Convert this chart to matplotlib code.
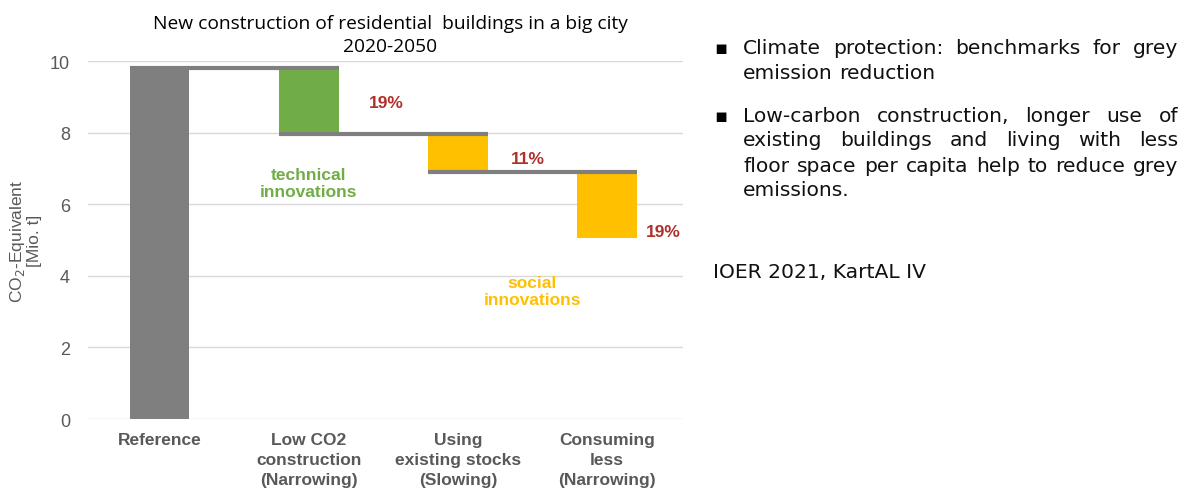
import matplotlib.pyplot as plt

# categories and waterfall values (Mio. t CO2-equivalent)
categories = ['Reference', 'Low CO2\nconstruction\n(Narrowing)',
              'Using\nexisting stocks\n(Slowing)', 'Consuming\nless\n(Narrowing)']
levels = [9.8, 7.95, 6.9, 5.05]          # level after each step
shares = ['19%', '11%', '19%']
colours = ['#7f7f7f', '#70ad47', '#ffc000', '#ffc000']

bullets = [
    ['Climate protection: benchmarks for grey', 'emission reduction'],
    ['Low-carbon construction, longer use of', 'existing buildings and living with less',
     'floor space per capita help to reduce grey', 'emissions.'],
]
source = 'IOER 2021, KartAL IV'

arial = ['Liberation Sans', 'DejaVu Sans']
side_font = ['DejaVu Sans']
side_size = 14.6

fig = plt.figure(figsize=(11.9, 4.89), dpi=100)
ax = fig.add_axes([0.074, 0.141, 0.50, 0.732])

w = 0.4
x = list(range(len(categories)))
# reference bar
ax.bar(x[0], levels[0], width=w, color=colours[0], zorder=3)
# reductions
for i in range(1, len(levels)):
    ax.bar(x[i], levels[i - 1] - levels[i], bottom=levels[i], width=w,
           color=colours[i], zorder=3)
# connector lines
for i in range(len(levels) - 1):
    ax.plot([x[i] - w / 2, x[i + 1] + w / 2], [levels[i], levels[i]],
            color='#7f7f7f', lw=3, zorder=4, solid_capstyle='butt')

# percentage labels (offsets from the step's middle)
dx = [0.52, 0.47, 0.375]
dy = [-0.02, -0.14, -0.73]
for i, s in enumerate(shares):
    ax.text(x[i + 1] + dx[i], (levels[i] + levels[i + 1]) / 2 + dy[i], s,
            color='#b0302a', fontsize=12.5, fontweight='bold', ha='center', va='center',
            family=arial)

ax.text(1.0, 6.6, 'technical\ninnovations', color='#70ad47', fontsize=12.5,
        fontweight='bold', ha='center', va='center', family=arial, linespacing=1.15)
ax.text(2.5, 3.57, 'social\ninnovations', color='#ffc000', fontsize=12.5,
        fontweight='bold', ha='center', va='center', family=arial, linespacing=1.15)

ax.set_xlim(-0.48, 3.51)
ax.set_ylim(0, 10)
ax.set_yticks([0, 2, 4, 6, 8, 10])
ax.set_xticks(x)
ax.set_xticklabels(categories, fontsize=12.5, fontweight='bold', color='#595959',
                   family=arial, linespacing=1.42)
ax.tick_params(axis='y', labelsize=13, colors='#595959', length=0, pad=13)
ax.tick_params(axis='x', length=0, pad=9)
for lab in ax.get_yticklabels():
    lab.set_family(arial)
ax.grid(axis='y', color='#d9d9d9', lw=1, zorder=0)
for sp in ax.spines.values():
    sp.set_visible(False)
ax.set_ylabel('CO$_2$-Equivalent\n[Mio. t]', fontsize=12.5, color='#595959',
              family=arial, linespacing=0.95, labelpad=6)

fig.text(0.328, 0.927, 'New construction of residential  buildings in a big city\n2020-2050',
         ha='center', va='center', fontsize=13.8, family=['Open Sans', 'DejaVu Sans'],
         linespacing=1.4)

# right-hand text, justified between x0 and x1 (pixels)
renderer = fig.canvas.get_renderer()
x0, x1 = 743, 1178
H = 489


def text_width(s):
    t = fig.text(0, 0, s, fontsize=side_size, family=side_font)
    wpx = t.get_window_extent(renderer).width
    t.remove()
    return wpx


space = text_width('a a') - 2 * text_width('a')


def put_line(line, ypix, justify):
    words = line.split(' ')
    texts = [fig.text(0, 0, wd, fontsize=side_size, va='center', ha='left',
                      family=side_font, color='#111111') for wd in words]
    widths = [t.get_window_extent(renderer).width for t in texts]
    if justify and len(words) > 1:
        gap = (x1 - x0 - sum(widths)) / (len(words) - 1)
    else:
        gap = space
    xp = x0
    for t, wpx in zip(texts, widths):
        t.set_position((xp / 1190, 1 - ypix / H))
        xp += wpx + gap


rows = [[49, 74], [116, 141, 166, 191]]
for para, ys in zip(bullets, rows):
    fig.text(714 / 1190, 1 - ys[0] / H, '\u25aa', fontsize=14, va='center', ha='left')
    for j, (line, yp) in enumerate(zip(para, ys)):
        put_line(line, yp, j < len(para) - 1)

fig.text(713 / 1190, 1 - 272 / H, source, fontsize=side_size, va='center', ha='left',
         family=side_font, color='#111111')

fig.savefig('out.png', dpi=100)
